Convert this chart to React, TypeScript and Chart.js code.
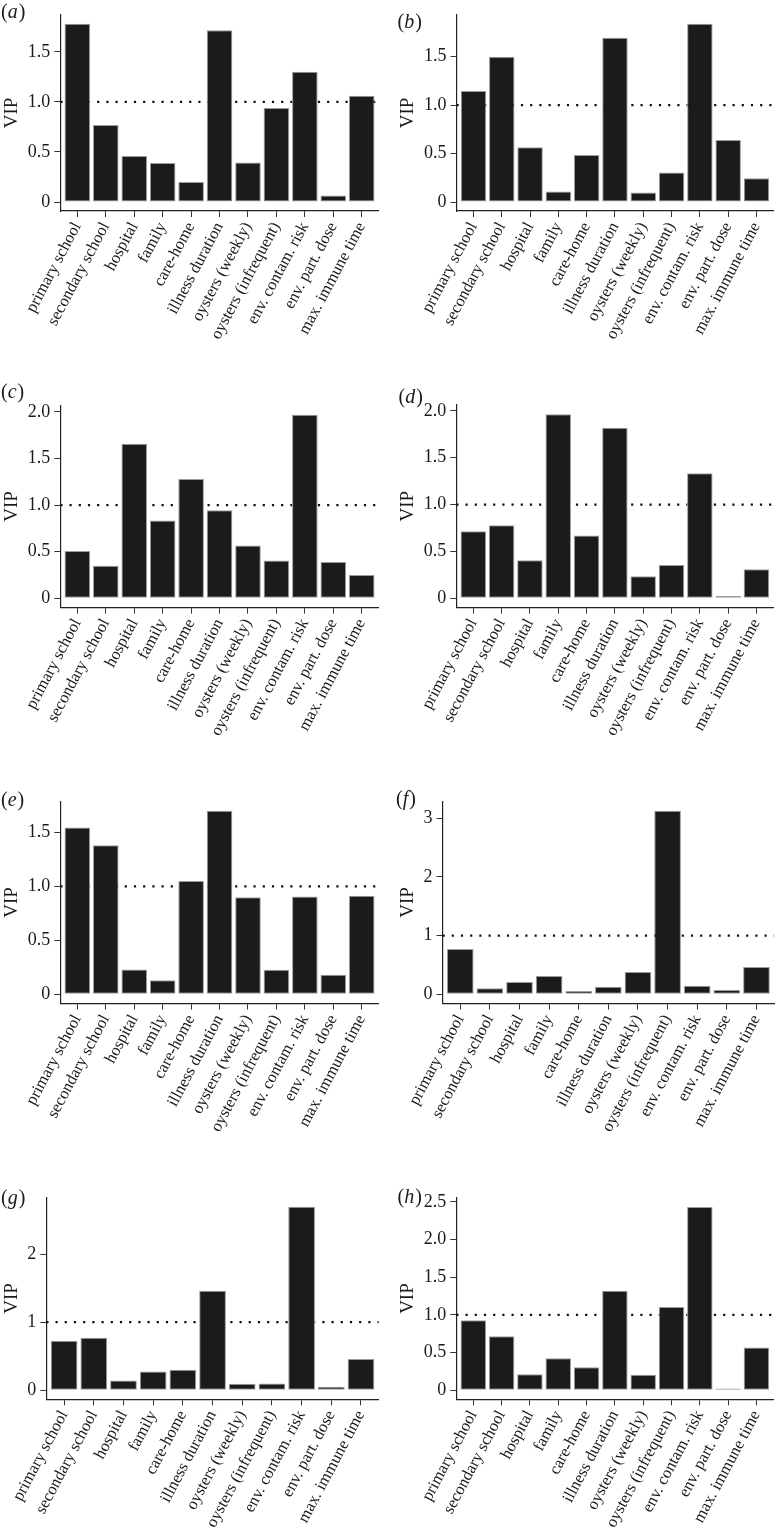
import React, { useEffect, useRef } from 'react';
import { Chart, registerables } from 'chart.js';

Chart.register(...registerables);

// ---------- data ----------
const CATEGORIES = [
  'primary school',
  'secondary school',
  'hospital',
  'family',
  'care-home',
  'illness duration',
  'oysters (weekly)',
  'oysters (infrequent)',
  'env. contam. risk',
  'env. part. dose',
  'max. immune time',
];

const VIP_A = [1.78, 0.77, 0.46, 0.39, 0.2, 1.715, 0.395, 0.94, 1.3, 0.065, 1.06];
const VIP_B = [1.145, 1.5, 0.565, 0.11, 0.485, 1.695, 0.1, 0.305, 1.84, 0.64, 0.245];
const VIP_C = [0.507, 0.35, 1.66, 0.836, 1.282, 0.946, 0.568, 0.407, 1.971, 0.389, 0.25];
const VIP_D = [0.715, 0.78, 0.405, 1.964, 0.67, 1.82, 0.235, 0.356, 1.335, 0.025, 0.31];
const VIP_E = [1.546, 1.38, 0.231, 0.13, 1.049, 1.701, 0.898, 0.228, 0.907, 0.182, 0.914];
const VIP_F = [0.773, 0.102, 0.21, 0.313, 0.057, 0.131, 0.381, 3.13, 0.148, 0.074, 0.466];
const VIP_G = [0.725, 0.77, 0.142, 0.275, 0.299, 1.461, 0.093, 0.098, 2.696, 0.049, 0.456];
const VIP_H = [0.929, 0.717, 0.212, 0.425, 0.305, 1.319, 0.204, 1.106, 2.434, 0.022, 0.566];

const Y_TICKS_15 = [0, 0.5, 1, 1.5];
const Y_LABELS_15 = ['0', '0.5', '1.0', '1.5'];
const Y_TICKS_20 = [0, 0.5, 1, 1.5, 2];
const Y_LABELS_20 = ['0', '0.5', '1.0', '1.5', '2.0'];
const Y_TICKS_25 = [0, 0.5, 1, 1.5, 2, 2.5];
const Y_LABELS_25 = ['0', '0.5', '1.0', '1.5', '2.0', '2.5'];
const Y_TICKS_3 = [0, 1, 2, 3];
const Y_LABELS_3 = ['0', '1', '2', '3'];
const Y_TICKS_2 = [0, 1, 2];
const Y_LABELS_2 = ['0', '1', '2'];

const THRESHOLD = 1;
const Y_TITLE = 'VIP';

// ---------- layout (page pixels) ----------
type Rect = { x: number; y: number; w: number; h: number };
type Area = { left: number; top: number; right: number; bottom: number };
type PanelSpec = {
  letter: string;
  values: number[];
  ticks: number[];
  tickLabels: string[];
  canvas: Rect;
  area: Area;
  label: [number, number];
};

const PANELS: PanelSpec[] = [
  { letter: 'a', values: VIP_A, ticks: Y_TICKS_15, tickLabels: Y_LABELS_15,
    canvas: { x: 0, y: 0, w: 396, h: 370 }, area: { left: 60.3, top: 10, right: 378.8, bottom: 211 }, label: [1, 18] },
  { letter: 'b', values: VIP_B, ticks: Y_TICKS_15, tickLabels: Y_LABELS_15,
    canvas: { x: 396, y: 0, w: 380, h: 370 }, area: { left: 456.5, top: 10, right: 775.2, bottom: 211 }, label: [397.5, 28] },
  { letter: 'c', values: VIP_C, ticks: Y_TICKS_20, tickLabels: Y_LABELS_20,
    canvas: { x: 0, y: 370, w: 396, h: 400 }, area: { left: 60.3, top: 405.5, right: 378.8, bottom: 607.5 }, label: [1, 398] },
  { letter: 'd', values: VIP_D, ticks: Y_TICKS_20, tickLabels: Y_LABELS_20,
    canvas: { x: 396, y: 370, w: 380, h: 400 }, area: { left: 456.3, top: 405, right: 775, bottom: 607.5 }, label: [398.5, 403] },
  { letter: 'e', values: VIP_E, ticks: Y_TICKS_15, tickLabels: Y_LABELS_15,
    canvas: { x: 0, y: 770, w: 396, h: 400 }, area: { left: 60.3, top: 801.5, right: 378.8, bottom: 1003.5 }, label: [1, 806] },
  { letter: 'f', values: VIP_F, ticks: Y_TICKS_3, tickLabels: Y_LABELS_3,
    canvas: { x: 396, y: 770, w: 380, h: 400 }, area: { left: 442.5, top: 801.5, right: 774.8, bottom: 1003.5 }, label: [396, 805] },
  { letter: 'g', values: VIP_G, ticks: Y_TICKS_2, tickLabels: Y_LABELS_2,
    canvas: { x: 0, y: 1170, w: 396, h: 364 }, area: { left: 46.3, top: 1197.5, right: 378.8, bottom: 1399.3 }, label: [1, 1204] },
  { letter: 'h', values: VIP_H, ticks: Y_TICKS_25, tickLabels: Y_LABELS_25,
    canvas: { x: 396, y: 1170, w: 380, h: 364 }, area: { left: 456.3, top: 1197.8, right: 775, bottom: 1399.3 }, label: [397.5, 1202.5] },
];

const SERIF = '"Liberation Serif", "Times New Roman", serif';
const INK = '#1a1a1a';
const BAR_FILL = '#1b1b1b';
const BAR_EDGE = '#9c9c9c';

function Panel({ spec }: { spec: PanelSpec }) {
  const ref = useRef<HTMLCanvasElement | null>(null);

  useEffect(() => {
    const canvas = ref.current;
    if (!canvas) return;
    const { canvas: c, area, values, ticks, tickLabels, letter, label } = spec;
    const n = CATEGORIES.length;
    const xMin = -0.6;
    const xMax = n - 1 + 0.6;
    const vMax = Math.max(...values);
    const yMin = -0.05 * vMax;
    const yMax = 1.05 * vMax;

    const labelPlugin = {
      id: 'panelLabel',
      afterDraw(chart: any) {
        const ctx = chart.ctx;
        ctx.save();
        ctx.fillStyle = INK;
        ctx.textBaseline = 'alphabetic';
        ctx.textAlign = 'left';
        let x = label[0] - c.x;
        const y = label[1] - c.y;
        ctx.font = `20px ${SERIF}`;
        ctx.fillText('(', x, y);
        x += ctx.measureText('(').width;
        ctx.font = `italic 20px ${SERIF}`;
        ctx.fillText(letter, x, y);
        x += ctx.measureText(letter).width + 1;
        ctx.font = `20px ${SERIF}`;
        ctx.fillText(')', x, y);
        ctx.restore();
      },
    };

    const chart = new Chart(canvas, {
      type: 'bar',
      data: {
        datasets: [
          {
            type: 'bar',
            data: values.map((v, i) => ({ x: i, y: v })),
            backgroundColor: BAR_FILL,
            borderColor: BAR_EDGE,
            borderWidth: 1,
            borderSkipped: false,
            barPercentage: 0.9,
            categoryPercentage: 1,
            order: 1,
          } as any,
          {
            type: 'line',
            data: [
              { x: xMin, y: THRESHOLD },
              { x: xMax, y: THRESHOLD },
            ],
            borderColor: '#111111',
            borderWidth: 2.2,
            borderDash: [2.2, 7],
            borderCapStyle: 'butt',
            pointRadius: 0,
            fill: false,
            order: 2,
          } as any,
        ],
      },
      options: {
        animation: false,
        responsive: false,
        maintainAspectRatio: false,
        events: [],
        layout: {
          padding: {
            top: area.top - c.y,
            right: c.x + c.w - area.right,
            left: 0,
            bottom: 0,
          },
        },
        plugins: {
          legend: { display: false },
          tooltip: { enabled: false },
          title: { display: false },
        },
        scales: {
          x: {
            type: 'linear',
            min: xMin,
            max: xMax,
            offset: false,
            grid: {
              display: true,
              offset: false,
              drawOnChartArea: false,
              drawTicks: true,
              tickLength: 6,
              color: '#333333',
              lineWidth: 1,
            },
            border: { display: true, color: '#222222', width: 1.2 },
            ticks: {
              autoSkip: false,
              minRotation: 62,
              maxRotation: 62,
              padding: 2,
              color: INK,
              font: { family: SERIF, size: 16.5 },
              callback: (v: any) => CATEGORIES[Math.round(Number(v))] ?? '',
            },
            afterBuildTicks: (s: any) => {
              s.ticks = CATEGORIES.map((_, i) => ({ value: i }));
            },
            afterFit: (s: any) => {
              s.height = c.y + c.h - area.bottom;
            },
          } as any,
          y: {
            type: 'linear',
            min: yMin,
            max: yMax,
            grid: {
              display: true,
              drawOnChartArea: false,
              drawTicks: true,
              tickLength: 6,
              color: '#333333',
              lineWidth: 1,
            },
            border: { display: true, color: '#222222', width: 1.2 },
            ticks: {
              padding: 4,
              color: INK,
              font: { family: SERIF, size: 18 },
              callback: (_v: any, i: number) => tickLabels[i] ?? '',
            },
            afterBuildTicks: (s: any) => {
              s.ticks = ticks.map((v) => ({ value: v }));
            },
            title: {
              display: true,
              text: Y_TITLE,
              color: INK,
              font: { family: SERIF, size: 19 },
              padding: { top: 1.1, bottom: 0 },
            },
            afterFit: (s: any) => {
              s.width = area.left - c.x;
            },
          } as any,
        },
      },
      plugins: [labelPlugin as any],
    });

    return () => chart.destroy();
  }, [spec]);

  const { canvas: c } = spec;
  return (
    <canvas
      ref={ref}
      width={c.w}
      height={c.h}
      style={{ position: 'absolute', left: c.x, top: c.y, width: c.w, height: c.h, display: 'block' }}
    />
  );
}

export default function App() {
  useEffect(() => {
    document.body.style.margin = '0';
  }, []);
  return (
    <div
      style={{
        position: 'absolute',
        left: 0,
        top: 0,
        width: 776,
        height: 1534,
        overflow: 'hidden',
        background: '#ffffff',
      }}
    >
      {PANELS.map((p) => (
        <Panel key={p.letter} spec={p} />
      ))}
    </div>
  );
}
